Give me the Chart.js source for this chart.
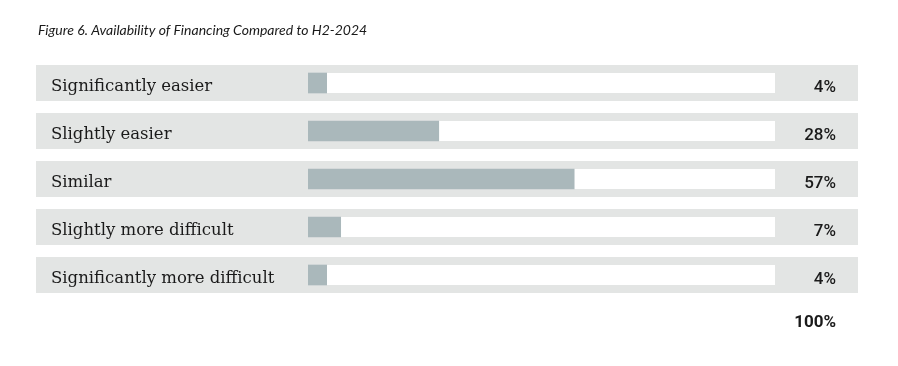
<!DOCTYPE html>
<html>
<head>
<meta charset="utf-8">
<script src="https://cdn.jsdelivr.net/npm/chart.js@4/dist/chart.umd.min.js"></script>
<style>
  html, body { margin: 0; padding: 0; background: #fff; }
  #wrap { width: 898px; height: 366px; position: relative; }
</style>
</head>
<body>
<div id="wrap"><canvas id="chart" width="898" height="366"></canvas></div>
<script>
// data
const titleText = 'Figure 6. Availability of Financing Compared to H2-2024';
const categories = ['Significantly easier', 'Slightly easier', 'Similar', 'Slightly more difficult', 'Significantly more difficult'];
const shares = [4, 28, 57, 7, 4];
const totalLabel = '100%';

const bandColor = '#e3e5e4';
const barColor = '#aab8bb';
const textColor = '#1a1a1a';

// rows: grey band + white track drawn before the axis labels, values and title after
const rowsPlugin = {
  id: 'rows',
  beforeDraw(chart) {
    const ctx = chart.ctx;
    const x = chart.scales.x, y = chart.scales.y;
    ctx.save();
    categories.forEach((c, i) => {
      const cy = y.getPixelForValue(i);
      ctx.fillStyle = bandColor;
      ctx.fillRect(36, cy - 18, 822, 36);
      ctx.fillStyle = '#fff';
      ctx.fillRect(x.getPixelForValue(0), cy - 10, x.getPixelForValue(100) - x.getPixelForValue(0), 20);
    });
    ctx.restore();
  },
  afterDraw(chart) {
    const ctx = chart.ctx;
    const y = chart.scales.y;
    ctx.save();
    ctx.fillStyle = textColor;
    ctx.textAlign = 'right';
    ctx.textBaseline = 'alphabetic';
    ctx.font = '500 17px Roboto, sans-serif';
    shares.forEach((v, i) => {
      ctx.fillText(v + '%', 836, y.getPixelForValue(i) + 9);
    });
    ctx.font = 'bold 17px Roboto, sans-serif';
    ctx.fillText(totalLabel, 836, 327);
    ctx.textAlign = 'left';
    ctx.font = 'italic 14px Lato, sans-serif';
    ctx.fillText(titleText, 38, 35);
    ctx.restore();
  }
};

new Chart(document.getElementById('chart'), {
  type: 'bar',
  data: {
    labels: categories,
    datasets: [{
      data: shares,
      backgroundColor: barColor,
      barThickness: 20,
      borderWidth: 0
    }]
  },
  options: {
    indexAxis: 'y',
    responsive: false,
    animation: false,
    layout: { padding: { left: 51, right: 123, top: 59, bottom: 67 } },
    plugins: { legend: { display: false }, tooltip: { enabled: false }, title: { display: false } },
    scales: {
      x: {
        min: 0, max: 100,
        display: false,
        grid: { display: false }
      },
      y: {
        grid: { display: false },
        border: { display: false },
        afterFit(scale) { scale.width = 257; },
        ticks: {
          crossAlign: 'far',
          color: textColor,
          padding: 0,
          labelOffset: 4,
          font: { family: '"DejaVu Serif", serif', size: 16.5 }
        }
      }
    }
  },
  plugins: [rowsPlugin]
});
</script>
</body>
</html>
